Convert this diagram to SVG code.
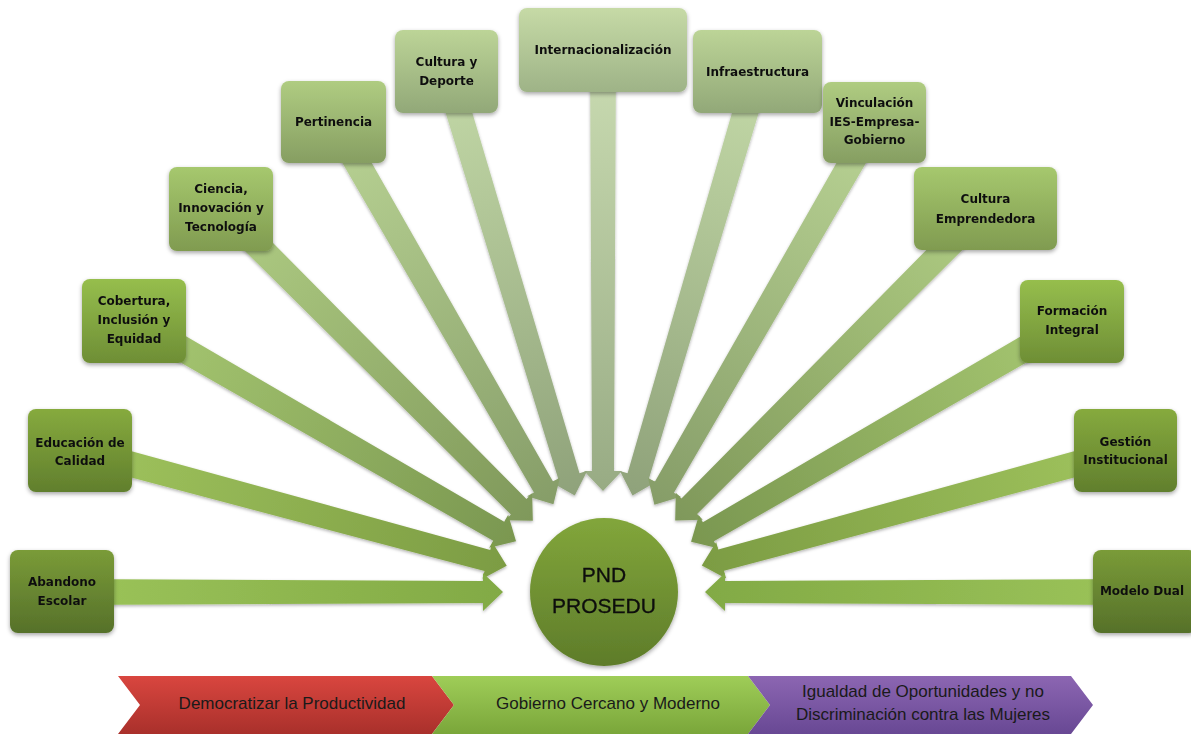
<svg xmlns="http://www.w3.org/2000/svg" width="1191" height="734" viewBox="0 0 1191 734">
<defs>
<style>
.lbl{font-family:"DejaVu Sans",sans-serif;font-weight:bold;font-size:12px;fill:#111;text-anchor:middle}
.ctr{font-family:"Liberation Sans",Arial,sans-serif;font-size:21px;fill:#0d0d0d;text-anchor:middle;stroke:#0d0d0d;stroke-width:0.3}
.bar{font-family:"Liberation Sans",Arial,sans-serif;font-size:17px;fill:#1a1a1a;text-anchor:middle}
.box{filter:url(#sh)}
</style>
<filter id="sh" x="-20%" y="-20%" width="140%" height="150%">
<feDropShadow dx="0" dy="2" stdDeviation="2" flood-color="#000" flood-opacity="0.35"/>
</filter>
<filter id="ash" x="-10%" y="-30%" width="120%" height="160%">
<feDropShadow dx="0" dy="1.5" stdDeviation="1.5" flood-color="#000" flood-opacity="0.3"/>
</filter>
<linearGradient id="b0" x1="0" y1="0" x2="0" y2="1"><stop offset="0" stop-color="#7a9b38"/><stop offset="1" stop-color="#56712a"/></linearGradient>
<linearGradient id="b1" x1="0" y1="0" x2="0" y2="1"><stop offset="0" stop-color="#86aa3e"/><stop offset="1" stop-color="#617f2d"/></linearGradient>
<linearGradient id="b2" x1="0" y1="0" x2="0" y2="1"><stop offset="0" stop-color="#96be4d"/><stop offset="1" stop-color="#6e8e35"/></linearGradient>
<linearGradient id="b3" x1="0" y1="0" x2="0" y2="1"><stop offset="0" stop-color="#a6c86e"/><stop offset="1" stop-color="#809b50"/></linearGradient>
<linearGradient id="b4" x1="0" y1="0" x2="0" y2="1"><stop offset="0" stop-color="#afcc81"/><stop offset="1" stop-color="#869e62"/></linearGradient>
<linearGradient id="b5" x1="0" y1="0" x2="0" y2="1"><stop offset="0" stop-color="#bcd497"/><stop offset="1" stop-color="#92a878"/></linearGradient>
<linearGradient id="b6" x1="0" y1="0" x2="0" y2="1"><stop offset="0" stop-color="#c6daa6"/><stop offset="1" stop-color="#9eb387"/></linearGradient>
<linearGradient id="a0" x1="0" y1="0" x2="1" y2="0"><stop offset="0" stop-color="#9cc45a"/><stop offset="1" stop-color="#82aa45"/></linearGradient>
<linearGradient id="a1" x1="0" y1="0" x2="1" y2="0"><stop offset="0" stop-color="#a0c45e"/><stop offset="1" stop-color="#7c9c43"/></linearGradient>
<linearGradient id="a2" x1="0" y1="0" x2="1" y2="0"><stop offset="0" stop-color="#a7c872"/><stop offset="1" stop-color="#7a9750"/></linearGradient>
<linearGradient id="a3" x1="0" y1="0" x2="1" y2="0"><stop offset="0" stop-color="#b0cd84"/><stop offset="1" stop-color="#7f985a"/></linearGradient>
<linearGradient id="a4" x1="0" y1="0" x2="1" y2="0"><stop offset="0" stop-color="#b9d394"/><stop offset="1" stop-color="#869d68"/></linearGradient>
<linearGradient id="a5" x1="0" y1="0" x2="1" y2="0"><stop offset="0" stop-color="#c3d9a7"/><stop offset="1" stop-color="#8fa27a"/></linearGradient>
<linearGradient id="a6" x1="0" y1="0" x2="1" y2="0"><stop offset="0" stop-color="#cadcb2"/><stop offset="1" stop-color="#98ab84"/></linearGradient>
<linearGradient id="gc" x1="0" y1="0" x2="0" y2="1"><stop offset="0" stop-color="#82a63b"/><stop offset="1" stop-color="#5e7c2a"/></linearGradient>
<linearGradient id="gr" x1="0" y1="0" x2="0" y2="1"><stop offset="0" stop-color="#d9463f"/><stop offset="1" stop-color="#a9302b"/></linearGradient>
<linearGradient id="gg" x1="0" y1="0" x2="0" y2="1"><stop offset="0" stop-color="#9fcd58"/><stop offset="1" stop-color="#7aa63a"/></linearGradient>
<linearGradient id="gp" x1="0" y1="0" x2="0" y2="1"><stop offset="0" stop-color="#8c66b2"/><stop offset="1" stop-color="#684894"/></linearGradient>
</defs>

<g id="connectors" filter="url(#ash)">
<path fill="url(#a6)" transform="translate(603,50) rotate(90)" d="M0,-13 L421,-11 L421,-19 L441,0 L421,19 L421,11 L0,13 Z"/>
<path fill="url(#a5)" transform="translate(446.5,71.5) rotate(73.17)" d="M0,-13 L423,-11 L423,-19 L443,0 L423,19 L423,11 L0,13 Z"/>
<path fill="url(#a5)" transform="translate(757.5,71.5) rotate(106.43)" d="M0,-13 L422,-11 L422,-19 L442,0 L422,19 L422,11 L0,13 Z"/>
<path fill="url(#a4)" transform="translate(333.5,122) rotate(60.08)" d="M0,-13 L421,-11 L421,-19 L441,0 L421,19 L421,11 L0,13 Z"/>
<path fill="url(#a4)" transform="translate(874.5,122.5) rotate(119.94)" d="M0,-13 L421,-11 L421,-19 L441,0 L421,19 L421,11 L0,13 Z"/>
<path fill="url(#a3)" transform="translate(221,209) rotate(45)" d="M0,-13 L421,-11 L421,-19 L441,0 L421,19 L421,11 L0,13 Z"/>
<path fill="url(#a3)" transform="translate(985.5,208.5) rotate(134.85)" d="M0,-13 L420,-11 L420,-19 L440,0 L420,19 L420,11 L0,13 Z"/>
<path fill="url(#a2)" transform="translate(134,321) rotate(29.97)" d="M0,-13 L421,-11 L421,-19 L441,0 L421,19 L421,11 L0,13 Z"/>
<path fill="url(#a2)" transform="translate(1072,321.5) rotate(149.97)" d="M0,-13 L420,-11 L420,-19 L440,0 L420,19 L420,11 L0,13 Z"/>
<path fill="url(#a1)" transform="translate(80,450.5) rotate(15.11)" d="M0,-13 L422,-11 L422,-19 L442,0 L422,19 L422,11 L0,13 Z"/>
<path fill="url(#a1)" transform="translate(1125.5,450.5) rotate(164.82)" d="M0,-13 L419,-11 L419,-19 L439,0 L419,19 L419,11 L0,13 Z"/>
<path fill="url(#a0)" transform="translate(62,592)" d="M0,-13 L421,-11 L421,-19 L441,0 L421,19 L421,11 L0,13 Z"/>
<path fill="url(#a0)" transform="translate(1145,592) rotate(180)" d="M0,-13 L420,-11 L420,-19 L440,0 L420,19 L420,11 L0,13 Z"/>
</g>

<g id="n-abandono" class="box"><rect x="10" y="550" width="104" height="83" rx="8" fill="url(#b0)"/>
<text class="lbl" x="62" y="586">Abandono</text><text class="lbl" x="62" y="605">Escolar</text></g>
<g id="n-educacion" class="box"><rect x="28" y="409" width="104" height="83" rx="8" fill="url(#b1)"/>
<text class="lbl" x="80" y="447">Educación de</text><text class="lbl" x="80" y="465">Calidad</text></g>
<g id="n-cobertura" class="box"><rect x="82" y="279" width="104" height="84" rx="8" fill="url(#b2)"/>
<text class="lbl" x="134" y="305">Cobertura,</text><text class="lbl" x="134" y="324">Inclusión y</text><text class="lbl" x="134" y="343">Equidad</text></g>
<g id="n-ciencia" class="box"><rect x="169" y="167" width="104" height="84" rx="8" fill="url(#b3)"/>
<text class="lbl" x="221" y="193">Ciencia,</text><text class="lbl" x="221" y="212">Innovación y</text><text class="lbl" x="221" y="231">Tecnología</text></g>
<g id="n-pertinencia" class="box"><rect x="281" y="81" width="105" height="82" rx="8" fill="url(#b4)"/>
<text class="lbl" x="333.5" y="126">Pertinencia</text></g>
<g id="n-cultura" class="box"><rect x="395" y="30" width="103" height="83" rx="8" fill="url(#b5)"/>
<text class="lbl" x="446.5" y="66">Cultura y</text><text class="lbl" x="446.5" y="85">Deporte</text></g>
<g id="n-internacional" class="box"><rect x="519" y="8" width="168" height="84" rx="8" fill="url(#b6)"/>
<text class="lbl" x="603" y="54">Internacionalización</text></g>
<g id="n-infraestructura" class="box"><rect x="693" y="30" width="129" height="83" rx="8" fill="url(#b5)"/>
<text class="lbl" x="757.5" y="76">Infraestructura</text></g>
<g id="n-vinculacion" class="box"><rect x="823" y="82" width="103" height="81" rx="8" fill="url(#b4)"/>
<text class="lbl" x="874.5" y="107">Vinculación</text><text class="lbl" x="874.5" y="126">IES-Empresa-</text><text class="lbl" x="874.5" y="144">Gobierno</text></g>
<g id="n-emprendedora" class="box"><rect x="914" y="167" width="143" height="83" rx="8" fill="url(#b3)"/>
<text class="lbl" x="985.5" y="203">Cultura</text><text class="lbl" x="985.5" y="223">Emprendedora</text></g>
<g id="n-formacion" class="box"><rect x="1020" y="280" width="104" height="83" rx="8" fill="url(#b2)"/>
<text class="lbl" x="1072" y="315">Formación</text><text class="lbl" x="1072" y="334">Integral</text></g>
<g id="n-gestion" class="box"><rect x="1074" y="409" width="103" height="83" rx="8" fill="url(#b1)"/>
<text class="lbl" x="1125.5" y="446">Gestión</text><text class="lbl" x="1125.5" y="464">Institucional</text></g>
<g id="n-modelo" class="box"><rect x="1093" y="550" width="104" height="83" rx="8" fill="url(#b0)"/>
<text class="lbl" x="1142" y="595">Modelo Dual</text></g>

<g id="n-center" class="box"><circle cx="604" cy="592" r="74" fill="url(#gc)"/>
<text class="ctr" x="604" y="582">PND</text><text class="ctr" x="604" y="613">PROSEDU</text></g>

<g id="n-democratizar"><path d="M118,676 H432 L454,705 L432,734 H118 L140,705 Z" fill="url(#gr)"/>
<text class="bar" x="292" y="709">Democratizar la Productividad</text></g>
<g id="n-gobierno"><path d="M432,676 H748 L770,705 L748,734 H432 L454,705 Z" fill="url(#gg)"/>
<text class="bar" x="608" y="709">Gobierno Cercano y Moderno</text></g>
<g id="n-igualdad"><path d="M748,676 H1071 L1093,705 L1071,734 H748 L770,705 Z" fill="url(#gp)"/>
<text class="bar" x="923" y="697">Igualdad de Oportunidades y no</text><text class="bar" x="923" y="720">Discriminación contra las Mujeres</text></g>
</svg>
